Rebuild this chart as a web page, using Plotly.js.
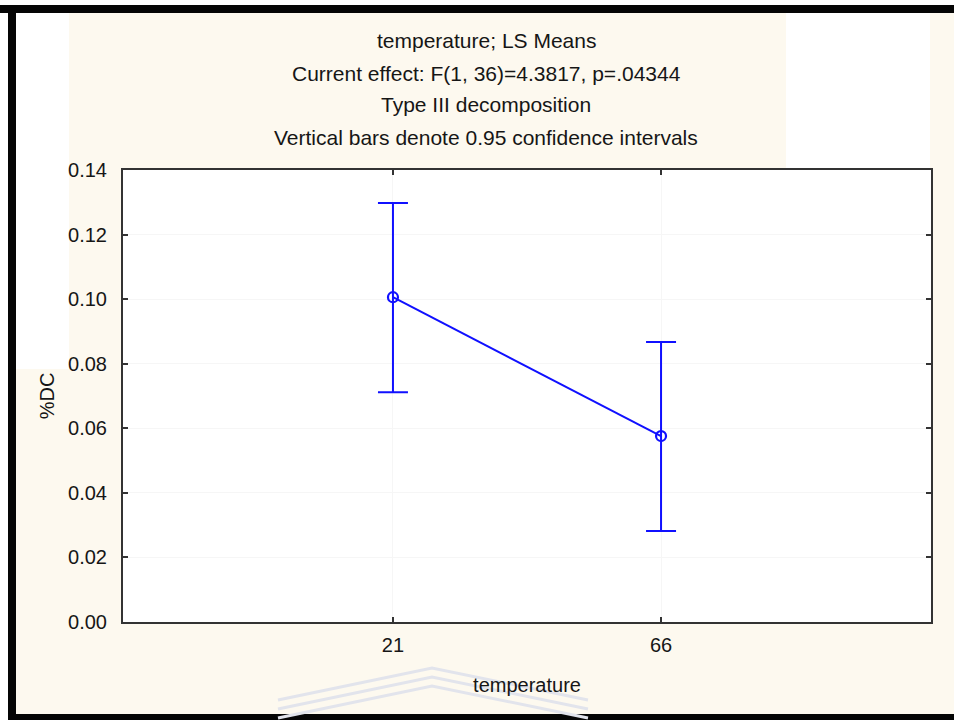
<!DOCTYPE html>
<html>
<head>
<meta charset="utf-8">
<script src="https://cdn.plot.ly/plotly-3.0.1.min.js"></script>
<style>html,body{margin:0;padding:0;background:#fff;}#chart{width:954px;height:720px;}</style>
</head>
<body>
<div id="chart"></div>
<script>
// Data
const categories = ['21', '66'];
const lsMeans = [0.1006, 0.0576];
const ciUpper = [0.0292, 0.0291];   // distance from mean to upper 95% limit
const ciLower = [0.0294, 0.0294];   // distance from mean to lower 95% limit
const yTicks = [0, 0.02, 0.04, 0.06, 0.08, 0.10, 0.12, 0.14];
const yTickText = ['0.00', '0.02', '0.04', '0.06', '0.08', '0.10', '0.12', '0.14'];
const titleLines = [
  'temperature; LS Means',
  'Current effect: F(1, 36)=4.3817, p=.04344',
  'Type III decomposition',
  'Vertical bars denote 0.95 confidence intervals'
];

// Layout geometry (pixels)
const W = 954, H = 720;
const L = 123, R = 931, T = 170, B = 622;
const px = x => (x - L) / (R - L);
const py = y => (B - y) / (B - T);
const FONT = 'Liberation Sans, Arial, sans-serif';
const BLUE = '#1010ff';
const TXT = '#161616';

const trace = {
  type: 'scatter',
  mode: 'lines+markers',
  x: categories,
  y: lsMeans,
  line: {color: BLUE, width: 2},
  marker: {symbol: 'circle-open', size: 10, color: BLUE, line: {color: BLUE, width: 2.2}},
  error_y: {type: 'data', symmetric: false, array: ciUpper, arrayminus: ciLower,
            color: BLUE, thickness: 2, width: 15},
  hoverinfo: 'x+y'
};

const annotations = titleLines.map((t, i) => ({
  text: t, xref: 'paper', yref: 'paper', x: px(486), y: py(41 + i * 32),
  xanchor: 'center', yanchor: 'middle', showarrow: false,
  font: {family: FONT, size: 21, color: TXT}
}));

const rect = (x0, y0, x1, y1, color) => ({
  type: 'rect', xref: 'paper', yref: 'paper', layer: 'below',
  x0: px(x0), x1: px(x1), y0: py(y0), y1: py(y1),
  fillcolor: color, line: {width: 0}
});
const shapes = [
  rect(0, 0, W, 5, '#ffffff'),
  rect(0, 0, 8, H, '#ffffff'),
  rect(16, 13, 69, 369, '#ffffff'),
  rect(786, 13, 930, 170, '#ffffff'),
  rect(0, 5, W, 13, '#050505'),
  rect(8, 5, 16, H, '#050505'),
  rect(8, 714, W, H, '#050505')
];
// faint watermark chevrons near the bottom
[0, 9, 18].forEach(d => {
  shapes.push({
    type: 'path', xref: 'paper', yref: 'paper', layer: 'below',
    path: 'M ' + px(278) + ',' + py(700 + d) + ' L ' + px(432) + ',' + py(668 + d) + ' L ' + px(588) + ',' + py(700 + d),
    line: {color: '#e2e4ec', width: 3}
  });
});

const layout = {
  width: W, height: H,
  margin: {l: L, r: W - R, t: T, b: H - B, pad: 0},
  paper_bgcolor: '#fdf9ef',
  plot_bgcolor: '#ffffff',
  showlegend: false,
  font: {family: FONT, size: 20, color: TXT},
  xaxis: {
    type: 'category', range: [-1.007, 2.007],
    showline: true, linecolor: '#333', linewidth: 2, mirror: 'ticks',
    ticks: 'inside', ticklen: 5, tickwidth: 2, tickcolor: '#333',
    showgrid: true, gridcolor: '#f6f6f6', zeroline: false,
    ticklabelstandoff: 4,
    tickfont: {family: FONT, size: 20, color: TXT},
    title: {text: 'temperature', font: {family: FONT, size: 20, color: TXT}, standoff: 23}
  },
  yaxis: {
    range: [0, 0.14], tickvals: yTicks, ticktext: yTickText,
    showline: true, linecolor: '#333', linewidth: 2, mirror: 'ticks',
    ticks: 'inside', ticklen: 5, tickwidth: 2, tickcolor: '#333',
    showgrid: true, gridcolor: '#f6f6f6', zeroline: false,
    ticklabelstandoff: 10,
    tickfont: {family: FONT, size: 20, color: TXT},
    title: {text: '%DC', font: {family: FONT, size: 20, color: TXT}, standoff: 8}
  },
  annotations: annotations,
  shapes: shapes
};

Plotly.newPlot('chart', [trace], layout, {displayModeBar: false});
</script>
</body>
</html>
